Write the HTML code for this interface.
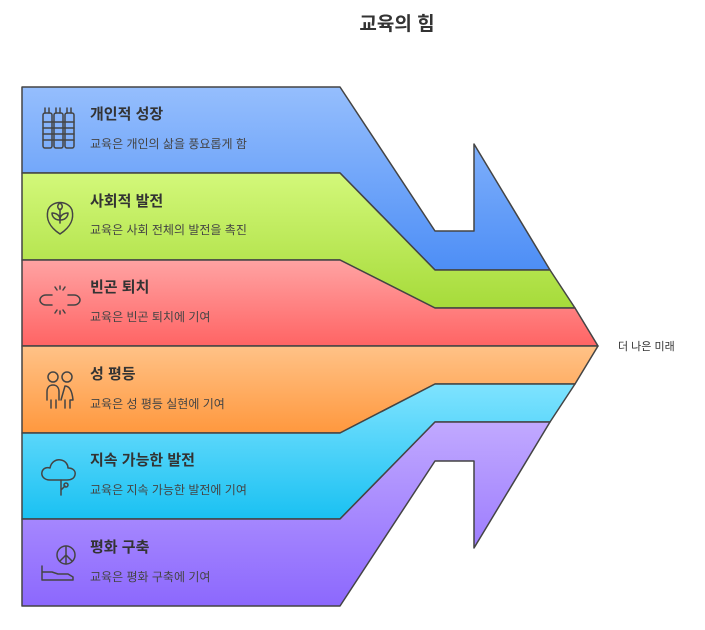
<!DOCTYPE html>
<html><head><meta charset="utf-8"><style>
html,body{margin:0;padding:0;background:#fff;}
svg{display:block;font-family:"Liberation Sans","Noto Sans CJK KR",sans-serif;}
.t{font-size:15px;font-weight:bold;fill:#333;}
.s{font-size:12px;fill:#444;}
.ic{fill:none;stroke:#444;stroke-width:1.5;stroke-linecap:round;stroke-linejoin:round;}
</style></head><body>
<svg width="705" height="630" viewBox="0 0 705 630" xmlns="http://www.w3.org/2000/svg">
<defs>
<linearGradient id="gb" x1="0" y1="0" x2="0" y2="1"><stop offset="0" stop-color="#95befd"/><stop offset="1" stop-color="#4d8ef6"/></linearGradient>
<linearGradient id="gg" x1="0" y1="0" x2="0" y2="1"><stop offset="0" stop-color="#d3f87a"/><stop offset="1" stop-color="#a6db3a"/></linearGradient>
<linearGradient id="gr" x1="0" y1="0" x2="0" y2="1"><stop offset="0" stop-color="#ffa3a3"/><stop offset="1" stop-color="#ff6464"/></linearGradient>
<linearGradient id="go" x1="0" y1="0" x2="0" y2="1"><stop offset="0" stop-color="#ffc287"/><stop offset="1" stop-color="#ff983e"/></linearGradient>
<linearGradient id="gc" x1="0" y1="0" x2="0" y2="1"><stop offset="0" stop-color="#7fe3ff"/><stop offset="1" stop-color="#1ac1f2"/></linearGradient>
<linearGradient id="gp" x1="0" y1="0" x2="0" y2="1"><stop offset="0" stop-color="#c1a9ff"/><stop offset="1" stop-color="#8c68fd"/></linearGradient>
</defs>
<text x="397" y="30" text-anchor="middle" style="font-size:19px;font-weight:bold;fill:#333">교육의 힘</text>
<g stroke="#444" stroke-width="1.5" stroke-linejoin="round">
<polygon fill="url(#gb)" points="22,87 340,87 435,231 474,231 474,144 550,270 435,270 340,173 22,173"/>
<polygon fill="url(#gg)" points="22,173 340,173 435,270 550,270 575,308 435,308 340,260 22,260"/>
<polygon fill="url(#gr)" points="22,260 340,260 435,308 575,308 598,346 22,346"/>
<polygon fill="url(#go)" points="22,346 598,346 575,384 435,384 340,433 22,433"/>
<polygon fill="url(#gc)" points="22,433 340,433 435,384 575,384 550,422 435,422 340,519 22,519"/>
<polygon fill="url(#gp)" points="22,519 340,519 435,422 550,422 474,548 474,461 435,461 340,606 22,606"/>
</g>
<text class="t" x="90" y="119">개인적 성장</text><text class="s" x="90" y="148">교육은 개인의 삶을 풍요롭게 함</text>
<text class="t" x="90" y="206">사회적 발전</text><text class="s" x="90" y="234">교육은 사회 전체의 발전을 촉진</text>
<text class="t" x="90" y="292">빈곤 퇴치</text><text class="s" x="90" y="321">교육은 빈곤 퇴치에 기여</text>
<text class="t" x="90" y="379">성 평등</text><text class="s" x="90" y="408">교육은 성 평등 실현에 기여</text>
<text class="t" x="90" y="465">지속 가능한 발전</text><text class="s" x="90" y="494">교육은 지속 가능한 발전에 기여</text>
<text class="t" x="90" y="552">평화 구축</text><text class="s" x="90" y="581">교육은 평화 구축에 기여</text>
<text x="618" y="350" style="font-size:11px;fill:#333">더 나은 미래</text>
<g class="ic">
<rect x="43" y="113" width="9" height="35" rx="2"/><rect x="54" y="113" width="9" height="35" rx="2"/><rect x="65" y="113" width="9" height="35" rx="2"/>
<path d="M43 122h31M43 128h31M43 134h31M43 140h31M45 113v-5M49 113v-5M56 113v-5M60 113v-5M67 113v-5M71 113v-5"/>
<path d="M60 234 C48 226 46 218 48 210 C52 200 68 200 72 210 C74 218 72 226 60 234Z"/>
<path d="M60 223v-14M60 220c-6 0-8-4-8-7 4 0 8 2 8 7M60 220c6 0 8-4 8-7-4 0-8 2-8 7M60 210c-3-2-3-5 0-7 3 2 3 5 0 7"/>
<path d="M52 295h-6c-4 0-6 3-6 5s2 5 6 5h6M68 295h6c4 0 6 3 6 5s-2 5-6 5h-6M57 290l-2-3M63 290l2-3M60 289v-3M57 310l-2 3M63 310l2 3M60 311v3"/>
<circle cx="53" cy="377" r="5"/><circle cx="67" cy="377" r="5"/>
<path d="M47 400v-8c0-4 2-7 6-7s6 3 6 7v8M51 400v8M56 400v8M61 400l4-14c4 0 7 4 8 14h-3v8M65 400v8"/>
<path d="M50 480c-6 0-9-4-8-8 1-4 5-5 8-4 1-6 6-9 11-8 5 1 7 5 7 8 5 0 8 3 7 7-1 4-5 5-8 5H50z"/>
<path d="M61 480v15M61 490l4-4"/><circle cx="66" cy="485" r="2"/>
<circle cx="66" cy="555" r="9"/><path d="M66 546v18M66 555l-6 6M66 555l6 6"/>
<path d="M42 566v14M42 572h10l6 2h10l5 3v3H42"/>
</g>
</svg>
</body></html>
